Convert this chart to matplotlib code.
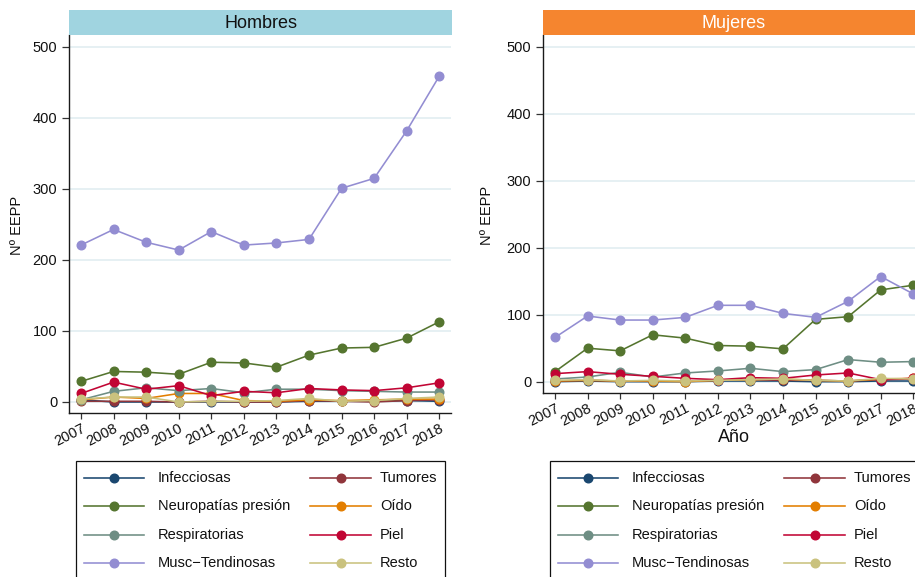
import matplotlib
matplotlib.use("Agg")
import matplotlib.pyplot as plt
from matplotlib.patches import Rectangle
from matplotlib.lines import Line2D

plt.rcParams['font.family'] = ['Liberation Sans', 'DejaVu Sans']

years = [2007, 2008, 2009, 2010, 2011, 2012, 2013, 2014, 2015, 2016, 2017, 2018]
categories = ["Infecciosas", "Tumores", "Neuropatías presión", "Oído",
              "Respiratorias", "Piel", "Musc\u2212Tendinosas", "Resto"]
colors = ["#1a476f", "#90353b", "#55752f", "#e37e00",
          "#6e8e84", "#c10534", "#938dd2", "#cac27e"]

# Hombres
inf_h = [3, 0, 0, 0, 0, 0, 0, 1, 1, 1, 2, 1]
tum_h = [1, 1, 1, 0, 1, 0, 0, 2, 1, 0, 2, 3]
neu_h = [29, 43, 42, 39, 56, 55, 49, 66, 76, 77, 90, 113]
oid_h = [3, 7, 5, 12, 12, 2, 1, 3, 2, 3, 4, 4]
resp_h = [3, 15, 20, 16, 19, 13, 18, 18, 16, 15, 14, 14]
piel_h = [12, 28, 18, 23, 9, 15, 13, 19, 17, 16, 20, 27]
musc_h = [221, 243, 225, 214, 240, 221, 224, 229, 301, 315, 382, 459]
resto_h = [4, 7, 7, 0, 1, 1, 2, 5, 1, 2, 5, 7]

# Mujeres
inf_m = [0, 1, 0, 0, 0, 1, 1, 1, 0, 0, 1, 1]
tum_m = [1, 2, 1, 1, 1, 2, 3, 2, 2, 1, 3, 4]
neu_m = [15, 50, 46, 70, 65, 54, 53, 49, 93, 97, 137, 144]
oid_m = [1, 2, 1, 1, 0, 2, 3, 4, 2, 1, 4, 5]
resp_m = [4, 7, 14, 7, 13, 16, 20, 15, 18, 33, 29, 30]
piel_m = [12, 15, 11, 8, 5, 3, 6, 5, 10, 13, 3, 5]
musc_m = [66, 98, 92, 92, 96, 114, 114, 102, 96, 120, 157, 131]
resto_m = [2, 3, 1, 2, 1, 2, 3, 4, 2, 1, 5, 4]

series_h = [inf_h, tum_h, neu_h, oid_h, resp_h, piel_h, musc_h, resto_h]
series_m = [inf_m, tum_m, neu_m, oid_m, resp_m, piel_m, musc_m, resto_m]

yticks = [0, 100, 200, 300, 400, 500]
panel_titles = ["Hombres", "Mujeres"]
strip_colors = ["#a0d4e0", "#f5852f"]
strip_text_colors = ["#111111", "#ffffff"]

W, H = 915, 577
fig = plt.figure(figsize=(W / 100, H / 100), dpi=100)
fig.patch.set_facecolor("white")

def px_axes(x0, y0, x1, y1):
    return fig.add_axes([x0 / W, (H - y1) / H, (x1 - x0) / W, (y1 - y0) / H])

# pixel boxes of the two plot regions
boxes = [(69, 35, 451, 413), (543, 35, 925, 393)]
ylims = [(-15.5, 516.9), (-16.9, 517.5)]

axes = []
for i, (box, data) in enumerate(zip(boxes, [series_h, series_m])):
    ax = px_axes(*box)
    axes.append(ax)
    for vals, col, lab in zip(data, colors, categories):
        ax.plot(years, vals, color=col, lw=1.15, marker='o', ms=6.2,
                mec=col, mfc=col, label=lab, clip_on=False, zorder=3)
    ax.set_xlim(2006.632, 2018.36)
    ax.set_ylim(*ylims[i])
    ax.set_yticks(yticks)
    ax.set_xticks(years)
    ax.set_xticklabels([str(y) for y in years])
    ax.grid(axis='y', color="#e2eef1", lw=1.2, zorder=0)
    ax.grid(axis='x', visible=False)
    for s in ['top', 'right']:
        ax.spines[s].set_visible(False)
    for s in ['left', 'bottom']:
        ax.spines[s].set_color("#1a1a1a")
        ax.spines[s].set_linewidth(1.0)
    ax.tick_params(axis='y', length=5, width=0.9, color="#333333",
                   labelsize=10.5, pad=3.5, labelcolor="#111111")
    ax.tick_params(axis='x', length=4, width=0.9, color="#333333",
                   labelsize=10.5, pad=2, labelcolor="#111111")
    plt.setp(ax.get_xticklabels(), rotation=27, ha='right',
             rotation_mode='anchor')
    ax.set_axisbelow(True)

# overlay for strips, labels and legends (pixel coordinates)
ov = fig.add_axes([0, 0, 1, 1], zorder=10)
ov.set_xlim(0, W)
ov.set_ylim(H, 0)
ov.axis('off')
ov.patch.set_alpha(0)

strip_boxes = [(69, 10, 452, 35), (542.7, 10, 930, 35)]
for (x0, y0, x1, y1), t, sc, tc in zip(strip_boxes, panel_titles,
                                       strip_colors, strip_text_colors):
    ov.add_patch(Rectangle((x0, y0), x1 - x0, y1 - y0, facecolor=sc,
                           edgecolor='none'))
    ax_center = (x0 + x1) / 2 if x1 < W else (543 + 925) / 2
    ov.text(ax_center, (y0 + y1) / 2 + 0.5, t, ha='center', va='center',
            fontsize=13, color=tc)

# y labels
ov.text(17, 225, "Nº EEPP", rotation=90, ha='center', va='center',
        fontsize=10.5, color="#111111")
ov.text(487, 215, "Nº EEPP", rotation=90, ha='center', va='center',
        fontsize=10.5, color="#111111")
# x label (right panel only)
ov.text(734, 438, "Año", ha='center', va='center', fontsize=13,
        color="#111111")

# legends
row_y = [477.7, 506.0, 534.7, 562.7]
for off in [0, 474]:
    ov.add_patch(Rectangle((75.7 + off, 460.7), 369.3, 200, facecolor='white',
                           edgecolor='#111111', lw=0.9))
    for k, (lab, col) in enumerate(zip(categories, colors)):
        r, c = divmod(k, 2)
        y = row_y[r]
        if c == 0:
            hx0, hx1, tx = 84 + off, 144 + off, 157.7 + off
        else:
            hx0, hx1, tx = 310 + off, 371 + off, 380 + off
        ov.add_line(Line2D([hx0, hx1], [y, y], color=col, lw=1.15))
        ov.add_line(Line2D([(hx0 + hx1) / 2], [y], color=col, marker='o',
                           ms=6.2, mec=col, mfc=col, lw=0))
        ov.text(tx, y, lab, ha='left', va='center', fontsize=10.5,
                color="#111111")

fig.savefig("out.png", dpi=100, facecolor="white")
